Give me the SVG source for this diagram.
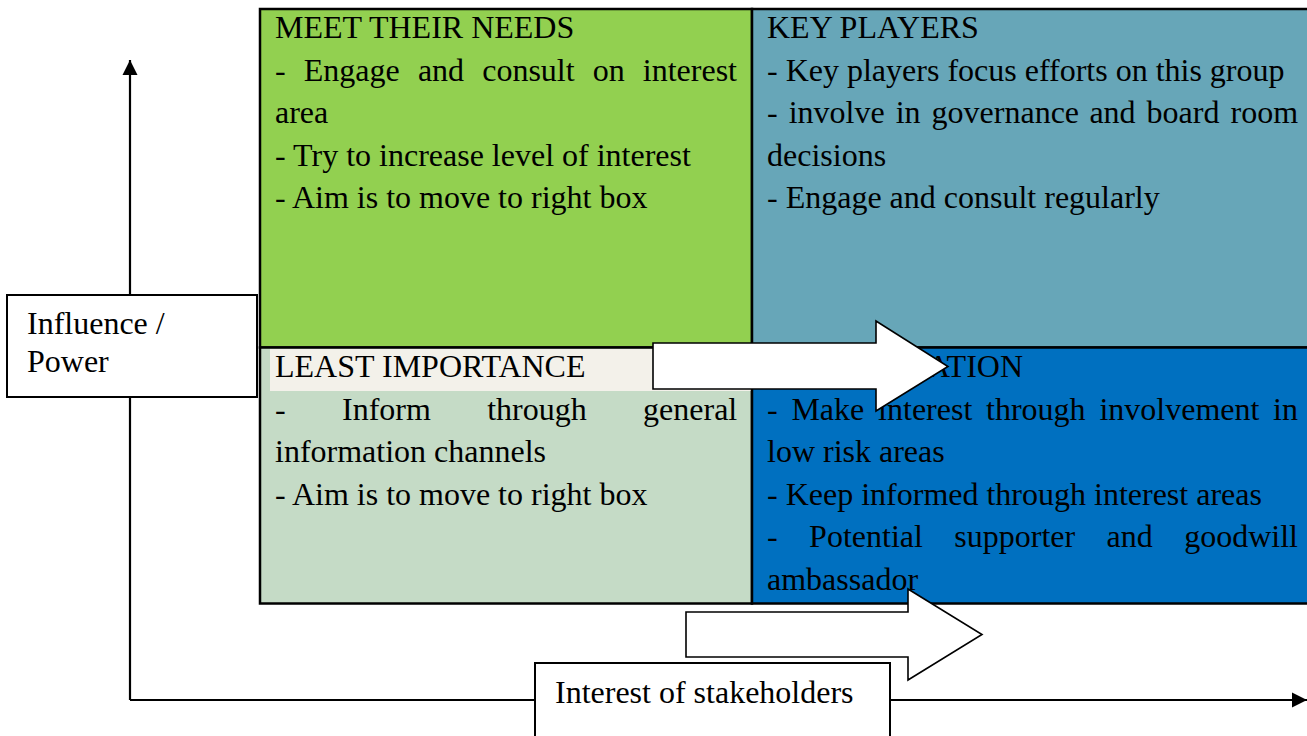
<svg xmlns="http://www.w3.org/2000/svg" width="1307" height="736" viewBox="0 0 1307 736">
<style>
text{font-family:"Liberation Serif","Times New Roman",serif;font-size:32px;fill:#000}
.cell{stroke:#000;stroke-width:2.5}
.box{fill:#fff;stroke:#000;stroke-width:2}
.axis{fill:none;stroke:#000;stroke-width:2.2}
.blk{fill:#fff;stroke:#000;stroke-width:1.6;stroke-linejoin:miter}
</style>
<defs>
<marker id="ah" viewBox="0 0 10 10" refX="10" refY="5" markerWidth="7" markerHeight="7" markerUnits="strokeWidth" orient="auto">
<path d="M0,0 L10,5 L0,10 Z" fill="#000"/>
</marker>
</defs>
<g id="connectors">
<path class="axis" d="M130,700 L130,60" marker-end="url(#ah)"/>
<path class="axis" d="M130,700 L1307,700" marker-end="url(#ah)"/>
</g>
<g id="meet-their-needs">
<rect class="cell" x="260" y="9" width="492" height="338.5" fill="#92D050"/>
<text x="275" y="38">MEET THEIR NEEDS</text>
<text y="80.5"><tspan x="275">-</tspan><tspan x="303.8">Engage</tspan><tspan x="417.9">and</tspan><tspan x="482.2">consult</tspan><tspan x="592.7">on</tspan><tspan x="642.8">interest</tspan></text>
<text x="275" y="123">area</text>
<text x="275" y="165.5">- Try to increase level of interest</text>
<text x="275" y="208">- Aim is to move to right box</text>
</g>
<g id="key-players">
<rect class="cell" x="752" y="9" width="560" height="338.5" fill="#67A6B8"/>
<text x="767" y="38">KEY PLAYERS</text>
<text x="767" y="80.5">- Key players focus efforts on this group</text>
<text y="123"><tspan x="767">-</tspan><tspan x="788.7">involve</tspan><tspan x="895.7">in</tspan><tspan x="931.6">governance</tspan><tspan x="1089.4">and</tspan><tspan x="1146.6">board</tspan><tspan x="1230.5">room</tspan></text>
<text x="767" y="165.5">decisions</text>
<text x="767" y="208">- Engage and consult regularly</text>
</g>
<g id="least-importance">
<rect class="cell" x="260" y="347.5" width="492" height="256" fill="#C5DBC6"/>
<rect x="270" y="349" width="481" height="42" fill="#F3F1EA"/>
<text x="275" y="377">LEAST IMPORTANCE</text>
<text y="419.5"><tspan x="275">-</tspan><tspan x="342">Inform</tspan><tspan x="487.2">through</tspan><tspan x="643.1">general</tspan></text>
<text x="275" y="462">information channels</text>
<text x="275" y="504.5">- Aim is to move to right box</text>
</g>
<g id="consideration">
<rect class="cell" x="752" y="347.5" width="560" height="256" fill="#0070C0"/>
<text x="767" y="377">CONSIDERATION</text>
<text y="419.5"><tspan x="767">-</tspan><tspan x="791.4">Make</tspan><tspan x="878.1">interest</tspan><tspan x="986">through</tspan><tspan x="1099.4">involvement</tspan><tspan x="1273.1">in</tspan></text>
<text x="767" y="462">low risk areas</text>
<text x="767" y="504.5">- Keep informed through interest areas</text>
<text y="547"><tspan x="767">-</tspan><tspan x="809.1">Potential</tspan><tspan x="954.3">supporter</tspan><tspan x="1106.6">and</tspan><tspan x="1184.2">goodwill</tspan></text>
<text x="767" y="589.5">ambassador</text>
</g>
<g id="influence-label">
<rect class="box" x="7" y="295" width="250" height="102"/>
<text x="27" y="334">Influence /</text>
<text x="27" y="372">Power</text>
</g>
<g id="interest-label">
<rect class="box" x="535" y="663" width="355" height="80"/>
<text x="555" y="703">Interest of stakeholders</text>
</g>
<g id="arrow-upper">
<polygon class="blk" points="653,343 876,343 876,321 948,366.5 876,411 876,389 653,389"/>
</g>
<g id="arrow-lower">
<polygon class="blk" points="686,612 908,612 908,589 982,634.5 908,680 908,657 686,657"/>
</g>
</svg>
